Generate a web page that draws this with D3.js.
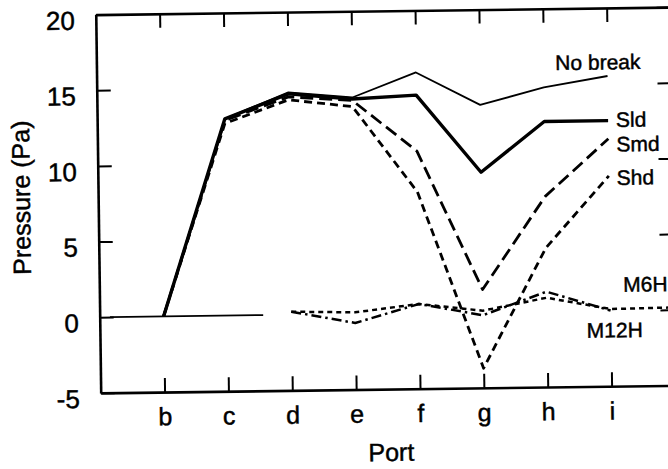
<!DOCTYPE html>
<html>
<head>
<meta charset="utf-8">
<script src="https://cdn.jsdelivr.net/npm/d3@7"></script>
<style>
  html, body { margin: 0; padding: 0; background: #fff; }
  svg { display: block; }
  text { font-family: "Liberation Sans", Arial, Helvetica, sans-serif; fill: #000; stroke: #000; stroke-width: 0.45px; }
</style>
</head>
<body>
<svg id="chart" width="668" height="469"></svg>
<script>
// ---- data ----
const ports = ['a', 'b', 'c', 'd', 'e', 'f', 'g', 'h', 'i', 'j'];
const tickPorts = ['b', 'c', 'd', 'e', 'f', 'g', 'h', 'i'];
const yTicks = [-5, 0, 5, 10, 15, 20];

const noBreak = [null, 0, 13.0, 14.7, 14.3, 15.9, 13.7, 14.8, 15.5];
const sld     = [null, 0, 13.0, 14.6, 14.2, 14.4, 9.25, 12.55, 12.55];
const smd     = [null, 0, 12.9, 14.4, 14.1, 10.7, 1.5, 7.6, 11.35];
const shd     = [null, 0, 12.7, 14.2, 13.7, 8.0, -3.7, 4.2, 8.9];
const m6h     = [null, null, null, 0.2, 0.1, 0.6, 0.1, 0.9, 0.1, 0.15];
const m12h    = [null, null, null, 0.2, -0.6, 0.6, -0.2, 1.3, 0.0];
const zeroSegment = [0.16, 2.56];   // port-index range of the zero line

const seriesNames = ['No break', 'Sld', 'Smd', 'Shd', 'M6H', 'M12H'];

// ---- layout ----
const svg = d3.select('#chart');
const mLeft = 98.2, mRight = 673, mTop = 10.9, mBottom = 389.2;

const root = svg.append('g').attr('transform', 'rotate(-0.75, 380, 200)');

const x = d3.scaleLinear().domain([0, ports.length - 1]).range([mLeft, mRight]);
const y = d3.scaleLinear().domain([-5, 20]).range([mBottom, mTop]);

// axes
const tickIdx = tickPorts.map(p => ports.indexOf(p));

const axisL = d3.axisLeft(y).tickValues(yTicks).tickSizeInner(-14).tickSizeOuter(0).tickPadding(21)
  .tickFormat(d => String(d));
const axisR = d3.axisRight(y).tickValues(yTicks).tickSizeInner(-14).tickSizeOuter(0).tickFormat('');
const axisB = d3.axisBottom(x).tickValues(tickIdx).tickSizeInner(-14).tickSizeOuter(0)
  .tickPadding(15.5).tickFormat(i => ports[i]);
const axisT = d3.axisTop(x).tickValues(tickIdx).tickSizeInner(-14).tickSizeOuter(0).tickFormat('');

function styleAxis(g) {
  g.select('.domain').attr('stroke', '#000').attr('stroke-width', 2.6).attr('fill', 'none');
  g.selectAll('.tick line').attr('stroke', '#000').attr('stroke-width', 2);
}

const gL = root.append('g').attr('transform', `translate(${mLeft},0)`).call(axisL).call(styleAxis);
gL.selectAll('.tick text').attr('font-size', 26).attr('dy', '0.55em')
  .attr('font-family', '"Liberation Sans", Arial, sans-serif').attr('fill', '#000');
root.append('g').attr('transform', `translate(${mRight},0)`).call(axisR).call(styleAxis);
const gB = root.append('g').attr('transform', `translate(0,${mBottom})`).call(axisB).call(styleAxis);
gB.selectAll('.tick text').attr('font-size', 25)
  .attr('font-family', '"Liberation Sans", Arial, sans-serif').attr('fill', '#000');
root.append('g').attr('transform', `translate(0,${mTop})`).call(axisT).call(styleAxis);

// axis titles
root.append('text').attr('transform', 'translate(30,193) rotate(-90)')
  .attr('text-anchor', 'middle').attr('font-size', 25).text('Pressure (Pa)');
root.append('text').attr('x', 388).attr('y', 461)
  .attr('text-anchor', 'middle').attr('font-size', 25).text('Port');

// lines
const line = d3.line()
  .defined(d => d.v !== null && d.v !== undefined)
  .x(d => x(d.i)).y(d => y(d.v));

function draw(values, width, dash) {
  const pts = values.map((v, i) => ({ i, v }));
  root.append('path').datum(pts)
    .attr('d', line)
    .attr('fill', 'none')
    .attr('stroke', '#000')
    .attr('stroke-width', width)
    .attr('stroke-linejoin', 'round')
    .attr('stroke-dasharray', dash || null);
}

// zero line
root.append('path')
  .datum(zeroSegment.map(i => ({ i, v: 0 })))
  .attr('d', line).attr('fill', 'none').attr('stroke', '#000').attr('stroke-width', 1.7);

draw(shd, 2.8, '8,5');
draw(smd, 2.8, '13,6');
draw(m6h, 2.5, '5,4');
draw(m12h, 2.5, '10,4,2.5,4');
draw(noBreak, 1.8, null);
draw(sld, 3.4, null);

// series labels
const labelPos = [
  [557, 72.4], [617, 130], [617, 154.5], [617, 188], [622, 295], [585, 340.5]
];
root.selectAll('text.series').data(seriesNames).join('text')
  .attr('class', 'series')
  .attr('x', (d, i) => labelPos[i][0])
  .attr('y', (d, i) => labelPos[i][1])
  .attr('font-size', 21)
  .text(d => d);
</script>
</body>
</html>
